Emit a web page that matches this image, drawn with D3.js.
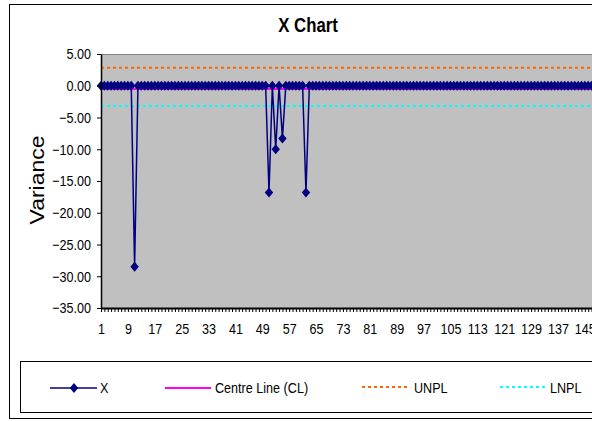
<!DOCTYPE html>
<html><head><meta charset="utf-8">
<script src="https://cdn.jsdelivr.net/npm/d3@7"></script>
<style>html,body{margin:0;padding:0;background:#fff;overflow:hidden}</style>
</head><body>
<script>
// ---- data ----
const title = "X Chart";
const yLabel = "Variance";
const xValues = [
 0,0,0,0,0,0,0,0,0,0, -28.5,0,0,0,0,0,0,0,0,0,
 0,0,0,0,0,0,0,0,0,0, 0,0,0,0,0,0,0,0,0,0,
 0,0,0,0,0,0,0,0,0,0, -16.8,0,-10.0,0,-8.3,0,0,0,0,0,
 0,-16.8,0,0,0,0,0,0,0,0, 0,0,0,0,0,0,0,0,0,0,
 0,0,0,0,0,0,0,0,0,0, 0,0,0,0,0,0,0,0,0,0,
 0,0,0,0,0,0,0,0,0,0, 0,0,0,0,0,0,0,0,0,0,
 0,0,0,0,0,0,0,0,0,0, 0,0,0,0,0,0,0,0,0,0,
 0,0,0,0,0,0,0,0,0,0
];
const categories = xValues.map((d, i) => i + 1);
const centreLine = -0.5;
const unpl = 2.85;
const lnpl = -3.2;
const yTicks = [5, 0, -5, -10, -15, -20, -25, -30, -35];
const xTickLabels = [1, 9, 17, 25, 33, 41, 49, 57, 65, 73, 81, 89, 97, 105, 113, 121, 129, 137, 145];
const legendItems = ["X", "Centre Line (CL)", "UNPL", "LNPL"];

// ---- layout ----
const W = 592, H = 421;
const plotL = 101, plotT = 54, plotB = 308;
const step = 3.36;
const plotR = plotL + (categories.length - 1) * step + 10;
const font = "'Liberation Sans',Arial,sans-serif";
const SX = 0.84; // horizontal condensing of text

const svg = d3.select("body").append("svg").attr("width", W).attr("height", H);

// outer chart border
svg.append("rect").attr("x", 9.5).attr("y", 4.5).attr("width", 640).attr("height", 414)
  .attr("fill", "#fff").attr("stroke", "#000").attr("stroke-width", 1);

// scales
const x = d3.scalePoint().domain(categories).range([plotL, plotL + (categories.length - 1) * step]);
const y = d3.scaleLinear().domain([-35, 5]).range([plotB, plotT]);

// plot area
svg.append("rect").attr("x", plotL).attr("y", plotT).attr("width", plotR - plotL).attr("height", plotB - plotT)
  .attr("fill", "#C0C0C0");
svg.append("line").attr("x1", plotL).attr("x2", plotR).attr("y1", plotT + 0.5).attr("y2", plotT + 0.5)
  .attr("stroke", "#808080").attr("stroke-width", 1);

// limit lines
const hline = (v, color, dash, w) => svg.append("line")
  .attr("x1", plotL).attr("x2", plotR).attr("y1", y(v)).attr("y2", y(v))
  .attr("stroke", color).attr("stroke-width", w).attr("stroke-dasharray", dash);
hline(unpl, "#FF6600", "3,3", 2);
hline(lnpl, "#00FFFF", "3,3", 2);
hline(centreLine, "#FF00FF", null, 2);

// series
const line = d3.line().x((d, i) => x(categories[i])).y(d => y(d));
svg.append("path").datum(xValues).attr("d", line).attr("fill", "none")
  .attr("stroke", "#000080").attr("stroke-width", 1.5);
const diamond = "M0,-5L4.2,0L0,5L-4.2,0Z";
svg.append("g").selectAll("path").data(xValues).join("path")
  .attr("d", diamond)
  .attr("transform", (d, i) => `translate(${x(categories[i])},${y(d)})`)
  .attr("fill", "#000080");

// y axis
const yAxis = d3.axisLeft(y).tickValues(yTicks).tickFormat(d3.format(".2f")).tickSize(4).tickSizeOuter(0);
const gy = svg.append("g").attr("transform", `translate(${plotL},0)`).call(yAxis);
gy.select(".domain").attr("stroke", "#000").attr("stroke-width", 1.5);
gy.selectAll(".tick line").attr("stroke", "#000");
gy.selectAll("text").attr("font-family", font).attr("font-size", 15).attr("fill", "#000")
  .attr("x", -10 / SX).attr("transform", `scale(${SX},1)`);

// x axis
const xAxis = d3.axisBottom(x).tickValues(categories).tickSize(4).tickSizeOuter(0)
  .tickFormat(d => xTickLabels.includes(d) ? d : "");
const gx = svg.append("g").attr("transform", `translate(0,${plotB})`).call(xAxis);
gx.select(".domain").attr("stroke", "#000").attr("stroke-width", 2);
gx.selectAll(".tick line").attr("stroke", "#000");
gx.selectAll("text").attr("font-family", font).attr("font-size", 15).attr("fill", "#000")
  .attr("y", 15).attr("transform", `scale(${SX},1)`);

// title
svg.append("text").attr("transform", `translate(308,32) scale(${SX},1)`).attr("text-anchor", "middle")
  .attr("font-family", font).attr("font-weight", "bold").attr("font-size", 20).text(title);

// y label
svg.append("text").attr("transform", `translate(44,180) rotate(-90) scale(1,${SX})`).attr("text-anchor", "middle")
  .attr("font-family", font).attr("font-size", 23).text(yLabel);

// legend
svg.append("rect").attr("x", 20.5).attr("y", 361.5).attr("width", 640).attr("height", 51)
  .attr("fill", "#fff").attr("stroke", "#000").attr("stroke-width", 1);
const ly = 388;
const lg = svg.append("g");
lg.append("line").attr("x1", 50).attr("x2", 97).attr("y1", ly).attr("y2", ly).attr("stroke", "#000080").attr("stroke-width", 1.5);
lg.append("path").attr("d", diamond).attr("transform", `translate(74,${ly})`).attr("fill", "#000080");
lg.append("line").attr("x1", 165).attr("x2", 211).attr("y1", ly).attr("y2", ly).attr("stroke", "#FF00FF").attr("stroke-width", 2);
lg.append("line").attr("x1", 362).attr("x2", 409).attr("y1", ly - 1).attr("y2", ly - 1).attr("stroke", "#FF6600").attr("stroke-width", 2).attr("stroke-dasharray", "3,3");
lg.append("line").attr("x1", 500).attr("x2", 546).attr("y1", ly - 1).attr("y2", ly - 1).attr("stroke", "#00FFFF").attr("stroke-width", 2).attr("stroke-dasharray", "3,3");
const lx = [100, 215, 414, 550];
lg.selectAll("text.leg").data(legendItems).join("text").attr("class", "leg")
  .attr("transform", (d, i) => `translate(${lx[i]},${ly + 5}) scale(${SX},1)`)
  .attr("font-family", font).attr("font-size", 15).text(d => d);
</script>
</body></html>
